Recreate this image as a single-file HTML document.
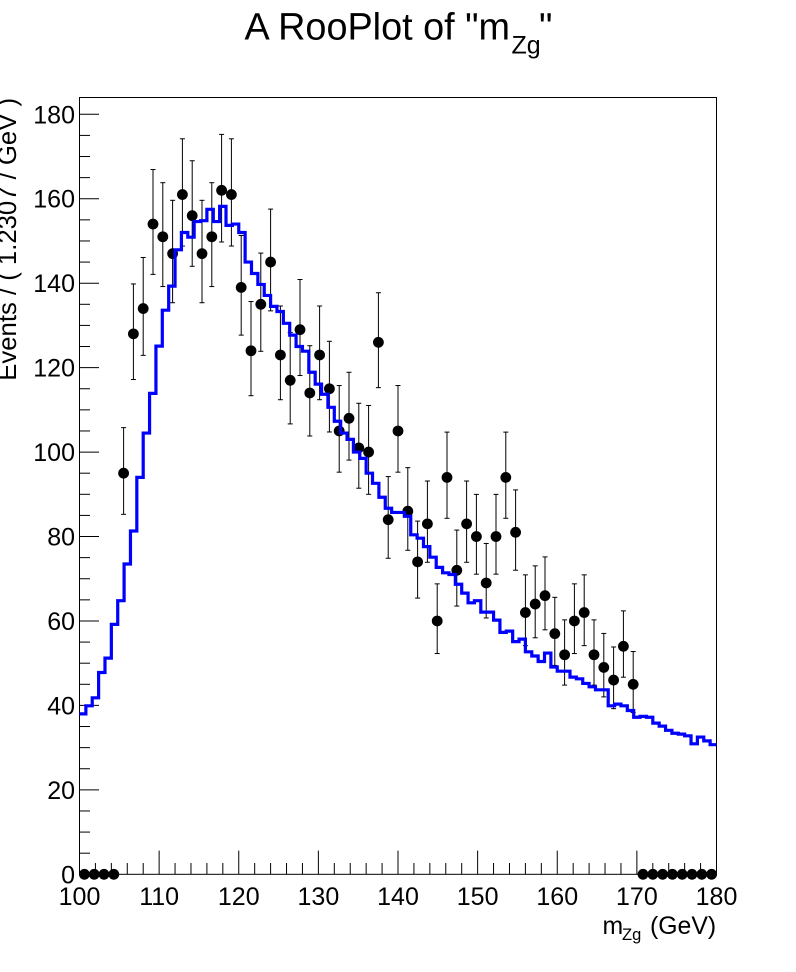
<!DOCTYPE html>
<html lang="en">
<head>
<meta charset="utf-8">
<title>A RooPlot of m_Zg</title>
<style>
html,body{margin:0;padding:0;background:#fff;}
#chart{display:block;position:absolute;left:0;top:0;font-family:"Liberation Sans",sans-serif;fill:#000;}
</style>
</head>
<body>
<svg id="chart" xmlns="http://www.w3.org/2000/svg" width="796" height="972" viewBox="0 0 796 972">
  <text font-size="37.8"><tspan x="244.5" y="39.5">A RooPlot of "m</tspan><tspan x="511.5" y="53.5" font-size="25">Zg</tspan><tspan x="539" y="39.5">"</tspan></text>
  <text font-size="24.8"><tspan x="602.5" y="934">m</tspan><tspan x="622" y="940" font-size="16.5">Zg</tspan><tspan x="650" y="934">(GeV)</tspan></text>
  <text font-size="25.7" text-anchor="end" transform="translate(16,98) rotate(-90)">Events / ( 1.2307 / GeV )</text>
  <rect x="79.5" y="97.5" width="637" height="776.8" fill="none" stroke="#000" stroke-width="1"/>
  <g id="y-axis"></g>
  <g id="x-axis"></g>
  <g id="points"></g>
  <path id="curve" fill="none" stroke="#0000ff" stroke-width="3.2" stroke-linejoin="miter"/>
</svg>
<script>
var yMajorTicks = [0, 20, 40, 60, 80, 100, 120, 140, 160, 180];
var yMinorTicks = [5, 10, 15, 25, 30, 35, 45, 50, 55, 65, 70, 75, 85, 90, 95, 105, 110, 115, 125, 130, 135, 145, 150, 155, 165, 170, 175];
var xMajorTicks = [100, 110, 120, 130, 140, 150, 160, 170, 180];
var xMinorTicks = [102, 104, 106, 108, 112, 114, 116, 118, 122, 124, 126, 128, 132, 134, 136, 138, 142, 144, 146, 148, 152, 154, 156, 158, 162, 164, 166, 168, 172, 174, 176, 178];

var eventCounts = [0, 0, 0, 0, 95, 128, 134, 154, 151, 147, 161, 156, 147, 151, 162, 161, 139, 124, 135, 145, 123, 117, 129, 114, 123, 115, 105, 108, 101, 100, 126, 84, 105, 86, 74, 83, 60, 94, 72, 83, 80, 69, 80, 94, 81, 62, 64, 66, 57, 52, 60, 62, 52, 49, 46, 54, 45, 0, 0, 0, 0, 0, 0, 0, 0];
var errorsUp = [0, 0, 0, 0, 10.79, 11.82, 12.09, 12.92, 12.8, 12.63, 13.2, 13, 12.63, 12.8, 13.24, 13.2, 12.3, 11.65, 12.13, 12.55, 11.6, 11.33, 11.87, 11.19, 11.6, 11.24, 10.76, 10.9, 10.56, 11.04, 11.74, 10.2, 10.76, 10.31, 9.65, 10.15, 8.79, 10.73, 9.53, 10.15, 9.98, 9.36, 9.98, 10.73, 10.04, 8.92, 9.05, 9.17, 8.6, 8.26, 8.79, 8.92, 8.26, 8.05, 7.84, 8.39, 7.76, 0, 0, 0, 0, 0, 0, 0, 0];
var errorsDown = [0, 0, 0, 0, 9.74, 10.82, 11.09, 11.92, 11.8, 11.63, 12.2, 12, 11.63, 11.8, 12.24, 12.2, 11.3, 10.65, 11.13, 11.55, 10.6, 10.33, 10.87, 10.19, 10.6, 10.24, 9.76, 9.9, 9.56, 10, 10.74, 9.15, 9.76, 9.26, 8.58, 9.1, 7.72, 9.68, 8.47, 9.1, 8.92, 8.29, 8.92, 9.68, 8.98, 7.85, 7.98, 8.1, 7.53, 7.19, 7.72, 7.85, 7.19, 6.98, 6.77, 7.32, 6.69, 0, 0, 0, 0, 0, 0, 0, 0];

var curveValues = [38.0, 39.9, 41.8, 47.8, 51.2, 59.2, 64.8, 73.5, 81.3, 94.0, 104.5, 113.9, 125.1, 133.6, 139.3, 147.9, 152.0, 150.9, 154.6, 154.8, 157.5, 154.6, 158.2, 153.7, 154.0, 152.0, 145.0, 142.3, 139.7, 137.1, 134.5, 133.3, 130.5, 127.7, 125.0, 123.9, 118.9, 116.1, 113.7, 110.6, 107.3, 104.5, 103.0, 100.0, 98.5, 95.0, 92.6, 89.3, 86.7, 85.7, 85.7, 84.8, 80.4, 79.6, 77.6, 75.1, 72.7, 71.4, 71.0, 68.7, 66.6, 64.3, 64.8, 62.1, 62.1, 60.2, 57.3, 57.6, 55.1, 55.7, 52.7, 51.7, 50.4, 52.4, 49.1, 48.1, 48.1, 46.7, 46.3, 45.2, 44.4, 43.7, 43.7, 39.9, 40.3, 39.9, 38.8, 37.2, 37.4, 37.2, 35.8, 35.1, 34.1, 33.4, 33.2, 32.8, 30.9, 32.5, 31.6, 30.7];

var SVG_NS = 'http://www.w3.org/2000/svg';
var xMin = 100, xMax = 180, plotLeft = 79.5, plotRight = 716.5;
var yMin = 0, yRef = 180, plotBottom = 874.3, yRefPixel = 114.3;

function xScale(v) {
  return plotLeft + (v - xMin) * (plotRight - plotLeft) / (xMax - xMin);
}
function yScale(v) {
  return plotBottom - (v - yMin) * (plotBottom - yRefPixel) / (yRef - yMin);
}
function makeLine(parent, x1, y1, x2, y2) {
  var l = document.createElementNS(SVG_NS, 'line');
  l.setAttribute('x1', x1);
  l.setAttribute('y1', y1);
  l.setAttribute('x2', x2);
  l.setAttribute('y2', y2);
  l.setAttribute('stroke', '#000');
  l.setAttribute('stroke-width', '1');
  parent.appendChild(l);
  return l;
}
function makeLabel(parent, x, y, anchor, str) {
  var t = document.createElementNS(SVG_NS, 'text');
  t.setAttribute('x', x);
  t.setAttribute('y', y);
  t.setAttribute('text-anchor', anchor);
  t.setAttribute('font-size', '25');
  t.textContent = str;
  parent.appendChild(t);
  return t;
}

var yAxis = document.getElementById('y-axis');
yMajorTicks.forEach(function (v) {
  var tick = makeLine(yAxis, plotLeft, yScale(v), plotLeft + 19.5, yScale(v));
  
  
  var label = makeLabel(yAxis, 75, yScale(v) + 9, 'end', String(v));
  
  
});
yMinorTicks.forEach(function (v) {
  var tick = makeLine(yAxis, plotLeft, yScale(v), plotLeft + 10.5, yScale(v));
  
  
});

var xAxis = document.getElementById('x-axis');
xMajorTicks.forEach(function (v) {
  var tick = makeLine(xAxis, xScale(v), plotBottom, xScale(v), plotBottom - 23.7);
  
  
  var label = makeLabel(xAxis, xScale(v), 905, 'middle', String(v));
  
  
});
xMinorTicks.forEach(function (v) {
  var tick = makeLine(xAxis, xScale(v), plotBottom, xScale(v), plotBottom - 11.3);
  
  
});

var pointsGroup = document.getElementById('points');
var pointBinWidth = (xMax - xMin) / eventCounts.length;
eventCounts.forEach(function (n, i) {
  var cx = xScale(xMin + (i + 0.5) * pointBinWidth);
  var g = document.createElementNS(SVG_NS, 'g');
  
  
  if (errorsUp[i] > 0 || errorsDown[i] > 0) {
    var top = yScale(n + errorsUp[i]);
    var bottom = yScale(n - errorsDown[i]);
    var stem = makeLine(g, cx, top, cx, bottom);
    
    
    var capTop = makeLine(g, cx - 2.5, top, cx + 2.5, top);
    
    
    var capBottom = makeLine(g, cx - 2.5, bottom, cx + 2.5, bottom);
    
    
  }
  var dot = document.createElementNS(SVG_NS, 'circle');
  
  
  dot.setAttribute('cx', cx);
  dot.setAttribute('cy', yScale(n));
  dot.setAttribute('r', '5.4');
  dot.setAttribute('fill', '#000');
  g.appendChild(dot);
  pointsGroup.appendChild(g);
});

var curveBinWidth = (xMax - xMin) / curveValues.length;
var curvePath = '';
curveValues.forEach(function (v, k) {
  var left = xScale(xMin + k * curveBinWidth);
  var right = xScale(xMin + (k + 1) * curveBinWidth);
  curvePath += (k === 0 ? 'M' + left + ' ' + yScale(v) : 'V' + yScale(v)) + 'H' + right;
});
document.getElementById('curve').setAttribute('d', curvePath);
</script>
</body>
</html>
